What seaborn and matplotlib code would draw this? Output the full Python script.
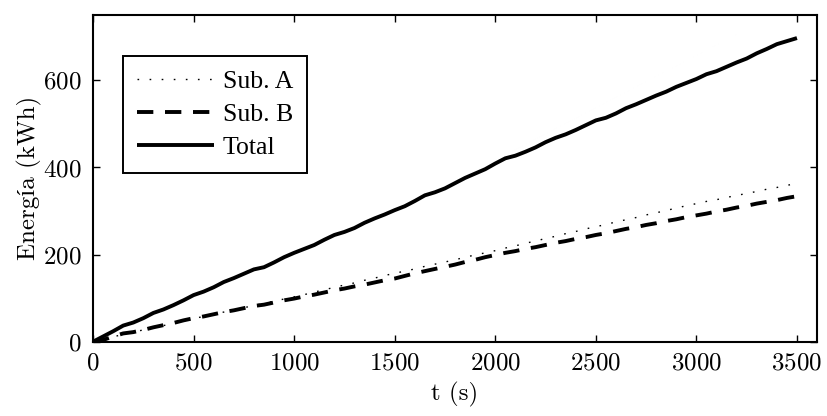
import matplotlib
matplotlib.use("Agg")
import matplotlib.pyplot as plt
import numpy as np
import pandas as pd
import seaborn as sns

# Time axis (s), sampled every 50 s
t = list(range(0, 3501, 50))

# Cumulative energy (kWh) per substation and total
sub_a = [0, 5, 11, 17, 22, 27, 32, 37, 42, 48,
         53, 58, 63, 68, 73, 78, 83, 88, 93, 98,
         103, 108, 114, 119, 125, 130, 135, 141, 146, 152,
         157, 162, 167, 173, 178, 183, 188, 194, 199, 204,
         209, 215, 220, 226, 231, 237, 242, 248, 253, 259,
         264, 269, 275, 280, 285, 291, 296, 301, 307, 312,
         317, 322, 326, 331, 336, 340, 345, 350, 354, 359,
         363]
sub_b = [0, 4, 12, 19, 22, 27, 33, 38, 43, 49,
         54, 58, 63, 68, 72, 77, 82, 85, 90, 95,
         99, 104, 108, 113, 118, 122, 127, 131, 136, 141,
         145, 151, 157, 162, 167, 172, 177, 183, 188, 194,
         199, 204, 208, 213, 217, 222, 227, 231, 236, 240,
         245, 249, 254, 259, 263, 268, 272, 277, 281, 286,
         290, 294, 299, 303, 308, 312, 317, 321, 325, 330,
         334]
total = [0, 12, 24, 37, 44, 54, 66, 74, 84, 95,
         107, 115, 125, 137, 146, 156, 166, 171, 182, 194,
         204, 213, 222, 234, 245, 252, 261, 273, 283, 292,
         302, 311, 323, 336, 343, 352, 364, 376, 386, 396,
         409, 421, 427, 436, 446, 458, 468, 476, 486, 497,
         508, 514, 524, 536, 545, 555, 565, 574, 585, 594,
         603, 614, 621, 631, 641, 650, 662, 672, 683, 690,
         697]

labels = ["Sub. A", "Sub. B", "Total"]

df = pd.DataFrame({"t": t, "Sub. A": sub_a, "Sub. B": sub_b, "Total": total})

sns.set_theme(style="ticks")
plt.rcParams.update({
    "axes.formatter.use_mathtext": True,
    "text.color": "black",
    "axes.labelcolor": "black",
    "xtick.color": "black",
    "ytick.color": "black",
    "axes.edgecolor": "black",
})
cm_font = ["cmr10", "Liberation Serif"]
times_font = ["Liberation Serif", "DejaVu Serif"]

fig = plt.figure(figsize=(8.27, 4.16), dpi=100)
ax = fig.add_axes([0.1125, 0.1786, 0.8755, 0.7854])

styles = {
    "Sub. A": dict(lw=1.0, dashes=(1.2, 7.5)),
    "Sub. B": dict(lw=2.8, dashes=(4.2, 3.0)),
    "Total": dict(lw=2.8, dashes=None),
}
for name in labels:
    st = styles[name]
    sns.lineplot(data=df, x="t", y=name, ax=ax, color="black",
                 linewidth=st["lw"], label=name, legend=False)
    line = ax.lines[-1]
    if st["dashes"] is not None:
        line.set_dashes(st["dashes"])
    line.set_solid_capstyle("butt")

ax.set_xlim(0, 3600)
ax.set_ylim(0, 750)
ax.set_xticks([0, 500, 1000, 1500, 2000, 2500, 3000, 3500])
ax.set_yticks([0, 200, 400, 600])

for side in ["left", "right", "top", "bottom"]:
    ax.spines[side].set_visible(True)
    ax.spines[side].set_linewidth(1.5)
    ax.spines[side].set_color("black")

ax.tick_params(direction="in", length=5, width=1, top=True, right=True,
               colors="black", labelcolor="black", pad=8)
for lab in ax.get_xticklabels() + ax.get_yticklabels():
    lab.set_family(cm_font)
    lab.set_fontsize(18)
    lab.set_color("black")

ax.set_xlabel("t (s)", family=cm_font, fontsize=18, labelpad=5, color="black")
ax.set_ylabel("Energía (kWh)", family=cm_font, fontsize=18, labelpad=1, color="black")

leg = ax.legend(loc="upper left", bbox_to_anchor=(0.041, 0.8745),
                prop={"family": times_font, "size": 18.5},
                frameon=True, fancybox=False, edgecolor="black",
                framealpha=1, handlelength=3.0, handletextpad=0.35,
                labelspacing=0.38, borderpad=0.55, borderaxespad=0)
leg.get_frame().set_linewidth(1.4)
for txt in leg.get_texts():
    txt.set_color("black")

ax.set_facecolor("white")
fig.patch.set_facecolor("white")
fig.savefig("out.png", dpi=100)
